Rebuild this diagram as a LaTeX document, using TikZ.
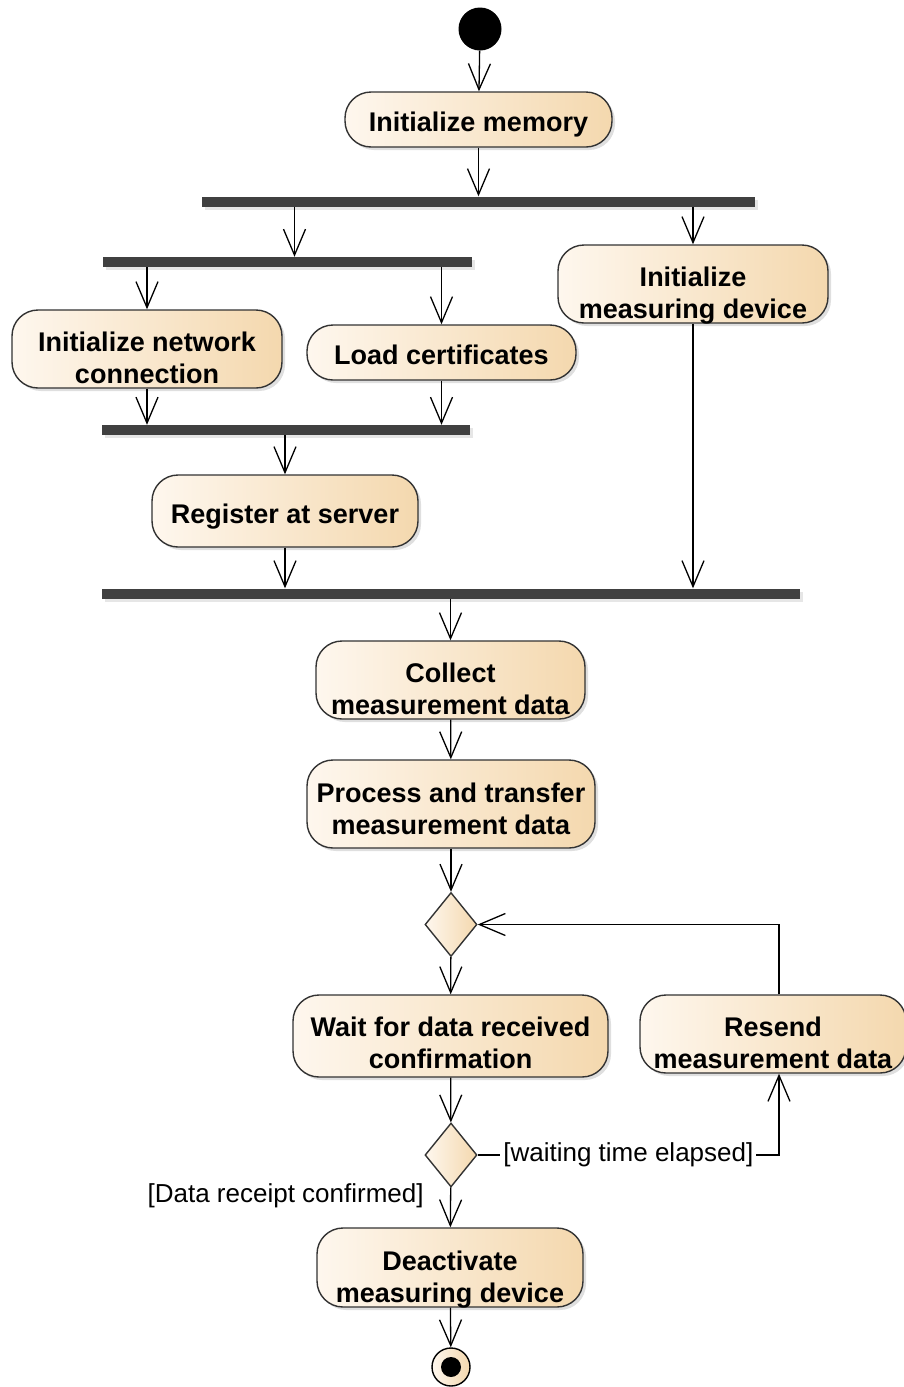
\documentclass[tikz,border=0pt]{standalone}
\usepackage{fontspec}
\setmainfont{Liberation Sans}
\usetikzlibrary{arrows.meta,shapes.geometric,shadows}
\definecolor{actleft}{HTML}{FEF7EE}
\definecolor{actright}{HTML}{F4D8AE}
\definecolor{barfill}{HTML}{404040}
\definecolor{edge}{HTML}{333333}
\tikzset{
  act/.style={draw=edge, line width=1.4pt, rectangle, rounded corners=26pt,
    left color=actleft, right color=actright, inner sep=0pt, align=center,
    font=\bfseries\fontsize{27}{32}\selectfont, text height=24pt, text depth=0pt,
    drop shadow={opacity=0.25, shadow xshift=3pt, shadow yshift=-3pt}},
  two/.style={text height=69pt, text depth=0pt},
  bar/.style={fill=barfill, rectangle, inner sep=0pt, minimum height=10pt,
    drop shadow={opacity=0.2, shadow xshift=3pt, shadow yshift=-3pt}},
  decision/.style={draw=edge, line width=1.4pt, diamond, inner sep=0pt,
    left color=actleft, right color=actright, minimum width=52pt, minimum height=64pt},
  flow/.style={line width=1.3pt, -{Straight Barb[length=26pt, width=22pt, line width=1.3pt]}},
  guard/.style={font=\fontsize{26}{30}\selectfont, fill=white, inner sep=3pt}
}
\begin{document}
\begin{tikzpicture}[x=1pt, y=-1pt]
  \useasboundingbox (0,0) rectangle (903,1387);
  \node [circle, fill=black, minimum size=43pt, inner sep=0pt] (start) at (480,29) {};
  \node [act, minimum width=267pt, minimum height=55pt] (mem) at (478.5,119.5) {Initialize memory};
  \node [bar, minimum width=553pt] (fork1) at (478.5,201.5) {};
  \node [bar, minimum width=369pt] (fork2) at (287.5,262) {};
  \node [act, two, minimum width=270pt, minimum height=78pt] (dev) at (693,284) {Initialize\\measuring device};
  \node [act, two, minimum width=270pt, minimum height=78pt] (net) at (147,349) {Initialize network\\connection};
  \node [act, minimum width=269pt, minimum height=55pt] (cert) at (441.5,352.5) {Load certificates};
  \node [bar, minimum width=368pt] (join1) at (286,430) {};
  \node [act, minimum width=266pt, minimum height=72pt] (reg) at (285,511) {Register at server};
  \node [bar, minimum width=698pt] (join2) at (451,593.5) {};
  \node [act, two, minimum width=269pt, minimum height=78pt] (collect) at (450.5,680) {Collect\\measurement data};
  \node [act, two, minimum width=288pt, minimum height=88pt, text height=61pt] (process) at (451,804) {Process and transfer\\measurement data};
  \node [decision] (dec1) at (451,924.5) {};
  \node [act, two, minimum width=315pt, minimum height=82pt, text height=65pt] (wait) at (450.5,1036) {Wait for data received\\confirmation};
  \node [act, two, minimum width=266pt, minimum height=78pt] (resend) at (773,1034) {Resend\\measurement data};
  \node [decision] (dec2) at (451,1155) {};
  \node [act, two, minimum width=266pt, minimum height=79pt] (deact) at (450,1267.5) {Deactivate\\measuring device};
  \node [circle, draw=black, line width=1.4pt, left color=actleft, right color=actright,
    minimum size=38pt, inner sep=0pt,
    path picture={\fill[black] (path picture bounding box.center) circle (10pt);}] (end) at (451,1367) {};
  \coordinate (f2in) at ([xshift=7]fork2.north);
  \coordinate (rsb) at ([xshift=6]resend.south);
  \coordinate (rst) at ([xshift=6]resend.north);
  \draw [flow] (start) -- (mem);
  \draw [flow] (mem) -- (fork1);
  \draw [flow] (f2in |- fork1.south) -- (f2in);
  \draw [flow] (fork1.south -| dev.north) -- (dev.north);
  \draw [flow] (fork2.south -| net.north) -- (net.north);
  \draw [flow] (fork2.south -| cert.north) -- (cert.north);
  \draw [flow] (net.south) -- (net.south |- join1.north);
  \draw [flow] (cert.south) -- (cert.south |- join1.north);
  \draw [flow] (join1.south -| reg.north) -- (reg.north);
  \draw [flow] (reg.south) -- (reg.south |- join2.north);
  \draw [flow] (dev.south) -- (dev.south |- join2.north);
  \draw [flow] (join2.south -| collect.north) -- (collect.north);
  \draw [flow] (collect) -- (process);
  \draw [flow] (process) -- (dec1);
  \draw [flow] (dec1) -- (wait);
  \draw [flow] (wait) -- (dec2);
  \draw [flow] (dec2) -- node [pos=0.22, left=23pt, font=\fontsize{26}{30}\selectfont] {[Data receipt confirmed]} (deact);
  \draw [flow] (deact) -- (end);
  \draw [flow] (dec2.east) -- node [guard] {[waiting time elapsed]} (dec2.east -| rsb) -- (rsb);
  \draw [flow] (rst) |- (dec1.east);
\end{tikzpicture}
\end{document}
